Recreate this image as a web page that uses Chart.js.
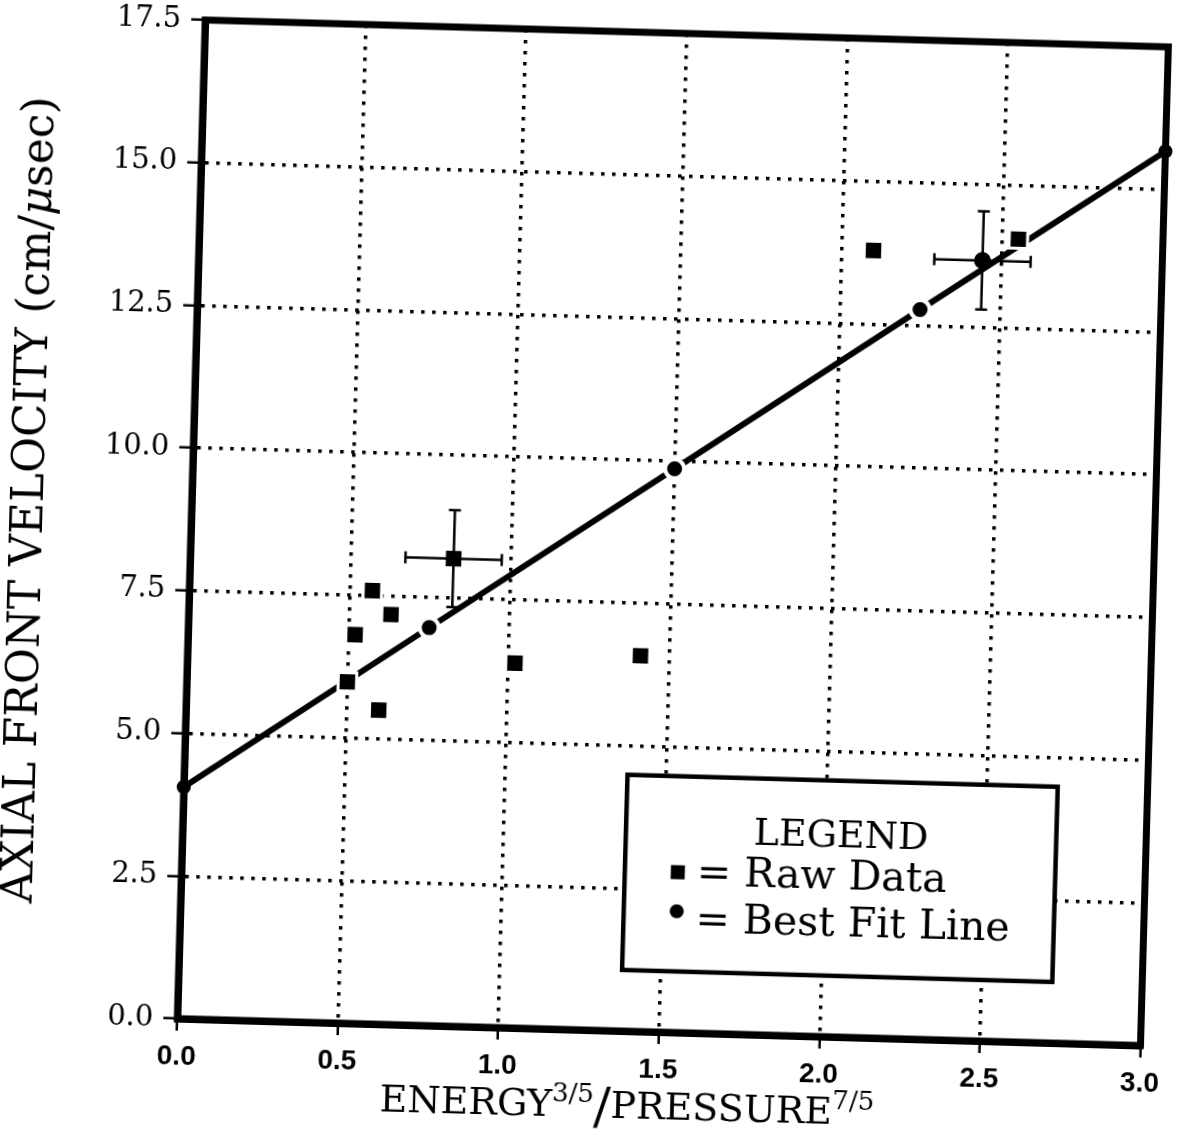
<!DOCTYPE html>
<html>
<head>
<meta charset="utf-8">
<script src="https://cdn.jsdelivr.net/npm/chart.js@4.4.1/dist/chart.umd.min.js"></script>
<style>
  html, body { margin: 0; padding: 0; background: #fff; overflow: hidden; }
  #wrap { width: 1182px; height: 1141px; }
  /* the scanned page is turned a little clockwise */
  #chart { transform: rotate(1.6deg); transform-origin: 591px 570px; }
</style>
</head>
<body>
<div id="wrap"><canvas id="chart" width="1182" height="1141"></canvas></div>
<script>
// values
const rawX = [0.50, 0.52, 0.57, 0.63, 0.60, 1.02, 1.41, 2.10, 2.55];
const rawY = [5.98, 6.81, 7.59, 7.18, 5.50, 6.39, 6.58, 13.79, 14.06];

// points that carry error bars
const errX = [0.82, 2.44];
const errY = [8.19, 13.67];
const errDx = [0.15, 0.15];
const errDy = [0.85, 0.86];
const errShape = ["rect", "circle"];

// best fit line
const fitX = [0.0, 0.75, 1.5, 2.25, 3.0];
const fitY = [4.06, 6.97, 9.87, 12.78, 15.67];

const xTicks = [0, 0.5, 1.0, 1.5, 2.0, 2.5, 3.0];
const yTicks = [0, 2.5, 5.0, 7.5, 10.0, 12.5, 15.0, 17.5];

const legendTitle = "LEGEND";
const legendLabels = ["= Raw Data", "= Best Fit Line"];

const BLACK = "#000";
const SERIF = "'DejaVu Serif', serif";

const toPoints = (xs, ys) => xs.map((x, i) => ({ x: x, y: ys[i] }));
const atEdge = (c) => c.raw && (c.raw.x === 0 || c.raw.x === 3);

// frame + error bars, under the markers
const framePlugin = {
  id: "frame",
  beforeDatasetsDraw(chart) {
    const { ctx, chartArea: a, scales } = chart;
    ctx.save();
    ctx.strokeStyle = BLACK;
    ctx.lineWidth = 7;
    ctx.strokeRect(a.left, a.top, a.right - a.left, a.bottom - a.top);

    ctx.lineWidth = 2.5;
    const cap = 6;
    errX.forEach((x, i) => {
      const px = scales.x.getPixelForValue(x);
      const py = scales.y.getPixelForValue(errY[i]);
      const x0 = scales.x.getPixelForValue(x - errDx[i]);
      const x1 = scales.x.getPixelForValue(x + errDx[i]);
      const y0 = scales.y.getPixelForValue(errY[i] - errDy[i]);
      const y1 = scales.y.getPixelForValue(errY[i] + errDy[i]);
      ctx.beginPath();
      ctx.moveTo(x0, py); ctx.lineTo(x1, py);
      ctx.moveTo(x0, py - cap); ctx.lineTo(x0, py + cap);
      ctx.moveTo(x1, py - cap); ctx.lineTo(x1, py + cap);
      ctx.moveTo(px, y0); ctx.lineTo(px, y1);
      ctx.moveTo(px - cap, y0); ctx.lineTo(px + cap, y0);
      ctx.moveTo(px - cap, y1); ctx.lineTo(px + cap, y1);
      ctx.stroke();
    });
    ctx.restore();
  }
};

// boxed legend inside the plot
const legendPlugin = {
  id: "boxLegend",
  afterDatasetsDraw(chart) {
    const { ctx, scales: { x, y } } = chart;
    const left = x.getPixelForValue(1.38), right = x.getPixelForValue(2.72);
    const top = y.getPixelForValue(4.49), bottom = y.getPixelForValue(1.07);
    ctx.save();
    ctx.fillStyle = "#fff";
    ctx.fillRect(left, top, right - left, bottom - top);
    ctx.lineWidth = 4.5;
    ctx.strokeStyle = BLACK;
    ctx.strokeRect(left, top, right - left, bottom - top);

    ctx.fillStyle = BLACK;
    ctx.textAlign = "center";
    ctx.textBaseline = "alphabetic";
    ctx.font = "38px " + SERIF;
    ctx.fillText(legendTitle, (left + right) / 2, top + 66);

    ctx.textAlign = "left";
    ctx.font = "41px " + SERIF;
    ctx.fillRect(left + 46, top + 89, 14, 14);
    ctx.fillText(legendLabels[0], left + 72, top + 108);
    ctx.beginPath();
    ctx.arc(left + 53, top + 135, 7, 0, Math.PI * 2);
    ctx.fill();
    ctx.fillText(legendLabels[1], left + 72, top + 155);
    ctx.restore();
  }
};

// axis titles (superscripts and the italic mu need hand drawing)
function drawParts(ctx, parts, cx, cy) {
  let total = 0;
  parts.forEach(p => { ctx.font = p.f; p.w = ctx.measureText(p.t).width; total += p.w; });
  let xx = cx - total / 2;
  parts.forEach(p => {
    ctx.font = p.f;
    ctx.fillText(p.t, xx, cy + (p.dy || 0));
    xx += p.w;
  });
}

const titlePlugin = {
  id: "axisTitles",
  afterDraw(chart) {
    const { ctx, chartArea: a } = chart;
    ctx.save();
    ctx.fillStyle = BLACK;
    ctx.textAlign = "left";
    ctx.textBaseline = "alphabetic";
    drawParts(ctx, [
      { t: "ENERGY", f: "38px " + SERIF },
      { t: "3/5", f: "26px " + SERIF, dy: -15 },
      { t: "/", f: "50px " + SERIF, dy: 6 },
      { t: "PRESSURE", f: "38px " + SERIF },
      { t: "7/5", f: "26px " + SERIF, dy: -15 }
    ], (a.left + a.right) / 2 - 30, a.bottom + 87);

    ctx.translate(30, (a.top + a.bottom) / 2 - 15);
    ctx.rotate(-Math.PI / 2);
    ctx.textBaseline = "middle";
    drawParts(ctx, [
      { t: "AXIAL FRONT VELOCITY (cm/", f: "44px " + SERIF },
      { t: "\u03bc", f: "italic 44px " + SERIF },
      { t: "sec)", f: "44px " + SERIF }
    ], 0, 0);
    ctx.restore();
  }
};

const ctx = document.getElementById("chart").getContext("2d");

new Chart(ctx, {
  data: {
    datasets: [
      {
        type: "scatter",
        label: "Raw Data",
        data: toPoints(rawX, rawY),
        pointStyle: "rect",
        pointRadius: 13,
        pointBackgroundColor: BLACK,
        pointBorderColor: "#fff",
        pointBorderWidth: 3
      },
      {
        type: "scatter",
        label: "Raw Data (error)",
        data: toPoints(errX, errY),
        pointStyle: errShape,
        pointRadius: (c) => errShape[c.dataIndex] === "rect" ? 11 : 8.5,
        pointBackgroundColor: BLACK,
        pointBorderWidth: 0
      },
      {
        type: "line",
        label: "Best Fit Line",
        data: toPoints(fitX, fitY),
        borderColor: BLACK,
        borderWidth: 6,
        pointRadius: (c) => atEdge(c) ? 7 : 9.5,
        pointBackgroundColor: BLACK,
        pointBorderColor: "#fff",
        pointBorderWidth: (c) => atEdge(c) ? 0 : 4,
        clip: false
      }
    ]
  },
  options: {
    responsive: false,
    animation: false,
    events: [],
    layout: { padding: { left: 0, top: 31, right: 26, bottom: 0 } },
    plugins: {
      legend: { display: false },
      tooltip: { enabled: false }
    },
    scales: {
      x: {
        type: "linear",
        min: 0,
        max: 3,
        afterBuildTicks: (s) => { s.ticks = xTicks.map(v => ({ value: v })); },
        afterFit: (s) => { s.height = 111; },
        ticks: {
          color: BLACK,
          font: { family: "'Liberation Sans', sans-serif", size: 28, weight: "bold" },
          padding: 9,
          maxRotation: 0,
          autoSkip: false,
          callback: (v) => v.toFixed(1)
        },
        grid: {
          color: BLACK,
          lineWidth: 3.5,
          tickLength: 12,
          tickWidth: 2.5,
          tickColor: BLACK,
          tickBorderDash: []
        },
        border: { display: true, color: BLACK, width: 7, dash: [3.5, 7.5] }
      },
      y: {
        type: "linear",
        min: 0,
        max: 17.5,
        afterBuildTicks: (s) => { s.ticks = yTicks.map(v => ({ value: v })); },
        afterFit: (s) => { s.width = 190; },
        ticks: {
          color: BLACK,
          font: { family: SERIF, size: 29 },
          padding: 10,
          autoSkip: false,
          callback: (v) => v.toFixed(1)
        },
        grid: {
          color: BLACK,
          lineWidth: 3.5,
          tickLength: 14,
          tickWidth: 2.5,
          tickColor: BLACK,
          tickBorderDash: []
        },
        border: { display: true, color: BLACK, width: 7, dash: [3.5, 7.5] }
      }
    }
  },
  plugins: [framePlugin, legendPlugin, titlePlugin]
});
</script>
</body>
</html>
